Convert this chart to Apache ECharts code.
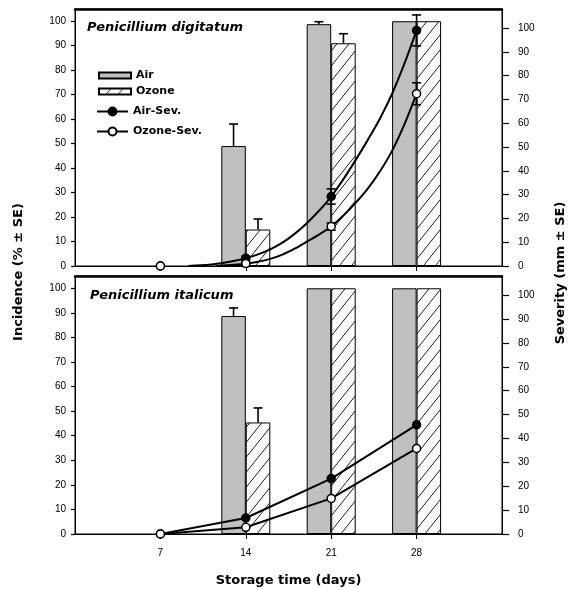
<!DOCTYPE html>
<html><head><meta charset="utf-8">
<script src="https://cdn.jsdelivr.net/npm/echarts@6/dist/echarts.min.js"></script>
<style>html,body{margin:0;padding:0;background:#fff}#c{width:568px;height:590px}</style>
</head><body><div id="c"></div>
<script>
// ---------- data ----------
const days = [7, 14, 21, 28];
const dayTicks = [7, 14, 21, 28];
const incidenceTicks = [0, 10, 20, 30, 40, 50, 60, 70, 80, 90, 100];
const severityTicks = [0, 10, 20, 30, 40, 50, 60, 70, 80, 90, 100];

// Penicillium digitatum (top panel)
const digAirInc = [0, 49, 98.8, 100];
const digAirIncSE = [0, 9, 1, 0];
const digOzoneInc = [0, 14.9, 91, 100];
const digOzoneIncSE = [0, 4.3, 3.9, 0];
const digAirSev = [0, 3.3, 29.2, 99];
const digAirSevSE = [0, 0.8, 3.2, 6.5];
const digOzoneSev = [0, 1, 16.6, 72.4];
const digOzoneSevSE = [0, 0.8, 1.5, 4.6];
// fitted curves as drawn in the figure
const digAirFitDays = [9.3, 11, 12, 13, 14, 15, 16, 17, 18, 19, 20, 21, 22, 23, 24, 25, 26, 27, 28];
const digAirFit = [0, 0.5, 1.2, 2.1, 3.3, 4.9, 7, 9.8, 13.5, 18, 23.2, 29.2, 36.5, 44.5, 53, 62, 72.5, 85, 99];
const digOzoneFitDays = [11.6, 13, 14, 15, 16, 17, 18, 19, 20, 21, 22, 23, 24, 25, 26, 27, 28];
const digOzoneFit = [0, 0.5, 1, 1.8, 3, 4.8, 7.3, 10.2, 13.2, 16.6, 21.2, 26.5, 32.5, 39.8, 48.5, 59.5, 72.4];

// Penicillium italicum (bottom panel)
const itaAirInc = [0, 88.7, 100, 100];
const itaAirIncSE = [0, 3.3, 0, 0];
const itaOzoneInc = [0, 45.4, 100, 100];
const itaOzoneIncSE = [0, 5.9, 0, 0];
const itaAirSev = [0, 6.7, 23.2, 45.7];
const itaOzoneSev = [0, 2.8, 14.9, 35.8];

// ---------- styles ----------
const BAR_W = 24.5, CAP = 9;
const GREY = '#c0c0c0';
const TICK_FONT = {fontFamily: 'Liberation Sans, Arial, sans-serif', fontSize: 10, color: '#000'};
const TITLE_FONT = {fontFamily: 'DejaVu Sans', fontWeight: 'bold', fontSize: 13, color: '#000'};

function hatch() {
  const w = 12, h = 15;
  const c = document.createElement('canvas');
  c.width = w; c.height = h;
  const g = c.getContext('2d');
  g.fillStyle = '#fff'; g.fillRect(0, 0, w, h);
  g.strokeStyle = '#222'; g.lineWidth = 1;
  g.beginPath();
  for (const dx of [-w, 0, w]) for (const dy of [-h, 0, h]) {
    g.moveTo(dx, h + dy); g.lineTo(w + dx, dy);
  }
  g.stroke();
  return c;
}
const HATCH = {image: hatch(), repeat: 'repeat'};

function pairs(xs, ys) { return xs.map((x, i) => [x, ys[i]]); }
function triples(xs, ys, es) { return xs.map((x, i) => [x, ys[i], es[i]]); }

function errorBars(offset, both) {
  return function (params, api) {
    const x = api.value(0), v = api.value(1), e = api.value(2);
    if (!(e > 0)) return null;
    const top = api.coord([x, v + e]);
    const bot = api.coord([x, both ? v - e : v]);
    const cx = top[0] + offset;
    const st = {stroke: '#000', lineWidth: 1.6};
    const kids = [
      {type: 'line', shape: {x1: cx, y1: bot[1], x2: cx, y2: top[1]}, style: st},
      {type: 'line', shape: {x1: cx - CAP / 2, y1: top[1], x2: cx + CAP / 2, y2: top[1]}, style: st}
    ];
    if (both) kids.push({type: 'line', shape: {x1: cx - CAP / 2, y1: bot[1], x2: cx + CAP / 2, y2: bot[1]}, style: st});
    return {type: 'group', children: kids};
  };
}

function xAxisBottom(gridIndex, withLabels) {
  return {
    type: 'value', gridIndex, min: 0, max: 35, position: 'bottom',
    axisLine: {onZero: false, lineStyle: {color: '#000', width: 1}},
    axisTick: {show: true, inside: false, length: 5, customValues: dayTicks, lineStyle: {color: '#000', width: 1}},
    axisLabel: {show: withLabels, customValues: dayTicks, margin: 14, ...TICK_FONT},
    splitLine: {show: false},
    name: withLabels ? 'Storage time (days)' : '',
    nameLocation: 'middle', nameGap: 40, nameTextStyle: TITLE_FONT
  };
}
function xAxisTop(gridIndex) {
  return {
    type: 'value', gridIndex, min: 0, max: 35, position: 'top',
    axisLine: {onZero: false, lineStyle: {color: '#000', width: 2.5}},
    axisTick: {show: false}, axisLabel: {show: false}, splitLine: {show: false}
  };
}
function yLeft(gridIndex) {
  return {
    type: 'value', gridIndex, min: 0, max: 105, position: 'left',
    axisLine: {show: true, onZero: false, lineStyle: {color: '#000', width: 1}},
    axisTick: {show: true, length: 4, customValues: incidenceTicks, lineStyle: {color: '#000', width: 1.2}},
    axisLabel: {customValues: incidenceTicks, margin: 9, ...TICK_FONT},
    splitLine: {show: false}
  };
}
function yRight(gridIndex) {
  return {
    type: 'value', gridIndex, min: 0, max: 108, position: 'right',
    axisLine: {show: true, onZero: false, lineStyle: {color: '#000', width: 1}},
    axisTick: {show: true, length: 7, customValues: severityTicks, lineStyle: {color: '#000', width: 1.2}},
    axisLabel: {customValues: severityTicks, margin: 16, ...TICK_FONT},
    splitLine: {show: false}
  };
}

function barSeries(name, xi, yi, vals, color) {
  return {
    type: 'bar', name, xAxisIndex: xi, yAxisIndex: yi, barWidth: BAR_W, barGap: '0%',
    data: pairs(days, vals).filter(p => p[1] > 0), z: 2,
    itemStyle: {color, borderColor: '#000', borderWidth: 1}
  };
}
function errSeries(xi, yi, vals, se, offset, both, z) {
  return {
    type: 'custom', xAxisIndex: xi, yAxisIndex: yi, z, silent: true,
    encode: {x: 0, y: 1}, data: triples(days, vals, se),
    renderItem: errorBars(offset, both)
  };
}
function sevLine(name, xi, yi, xs, ys, filled, showSym, smooth) {
  return {
    type: 'line', name, xAxisIndex: xi, yAxisIndex: yi, data: pairs(xs, ys), z: 4,
    smooth, symbol: 'circle', symbolSize: 8, showSymbol: showSym,
    lineStyle: {color: '#000', width: 2},
    itemStyle: {color: filled ? '#000' : '#fff', borderColor: '#000', borderWidth: 1.5}
  };
}
function sevMarkers(name, xi, yi, ys, filled, z) {
  return {
    type: 'scatter', name, xAxisIndex: xi, yAxisIndex: yi, data: pairs(days, ys), z,
    symbol: 'circle', symbolSize: 8,
    itemStyle: {color: filled ? '#000' : '#fff', borderColor: '#000', borderWidth: 1.5, opacity: 1}
  };
}

const option = {
  animation: false,
  backgroundColor: '#fff',
  title: [
    {text: 'Penicillium digitatum', left: 87, top: 21, padding: 0,
     textStyle: {fontFamily: 'DejaVu Sans', fontStyle: 'italic', fontWeight: 'bold', fontSize: 13, color: '#000'}},
    {text: 'Penicillium italicum', left: 90, top: 289, padding: 0,
     textStyle: {fontFamily: 'DejaVu Sans', fontStyle: 'italic', fontWeight: 'bold', fontSize: 13, color: '#000'}}
  ],
  legend: [
    {data: ['Air', 'Ozone'], orient: 'vertical', left: 98, top: 70, padding: 0,
     icon: 'rect', itemWidth: 32, itemHeight: 6, itemGap: 5,
     textStyle: {fontFamily: 'DejaVu Sans', fontWeight: 'bold', fontSize: 11, color: '#000'}},
    {data: ['Air-Sev.', 'Ozone-Sev.'], orient: 'vertical', left: 96, top: 106, padding: 0,
     itemWidth: 31, itemHeight: 10, itemGap: 9,
     textStyle: {fontFamily: 'DejaVu Sans', fontWeight: 'bold', fontSize: 11, color: '#000'}}
  ],
  grid: [
    {left: 75, right: 66, top: 9, height: 257, show: true, borderColor: '#000', borderWidth: 1, backgroundColor: 'transparent'},
    {left: 75, right: 66, top: 276, height: 258, show: true, borderColor: '#000', borderWidth: 1, backgroundColor: 'transparent'}
  ],
  xAxis: [xAxisBottom(0, false), xAxisTop(0), xAxisBottom(1, true), xAxisTop(1)],
  yAxis: [yLeft(0), yRight(0), yLeft(1), yRight(1)],
  graphic: [
    {type: 'text', x: 19, y: 272, rotation: Math.PI / 2,
     style: {text: 'Incidence (% \u00b1 SE)', align: 'center', verticalAlign: 'middle', fill: '#000',
             fontFamily: 'DejaVu Sans', fontWeight: 'bold', fontSize: 13}},
    {type: 'text', x: 561, y: 273, rotation: Math.PI / 2,
     style: {text: 'Severity (mm \u00b1 SE)', align: 'center', verticalAlign: 'middle', fill: '#000',
             fontFamily: 'DejaVu Sans', fontWeight: 'bold', fontSize: 13}}
  ],
  series: [
    // bottom panel (listed first so legend icons come from these)
    barSeries('Air', 2, 2, itaAirInc, GREY),
    barSeries('Ozone', 2, 2, itaOzoneInc, HATCH),
    errSeries(2, 2, itaAirInc, itaAirIncSE, -BAR_W / 2, false, 3),
    errSeries(2, 2, itaOzoneInc, itaOzoneIncSE, BAR_W / 2, false, 3),
    sevLine('Air-Sev.', 2, 3, days, itaAirSev, true, true, false),
    sevLine('Ozone-Sev.', 2, 3, days, itaOzoneSev, false, true, false),
    // top panel
    barSeries('Air', 0, 0, digAirInc, GREY),
    barSeries('Ozone', 0, 0, digOzoneInc, HATCH),
    errSeries(0, 0, digAirInc, digAirIncSE, -BAR_W / 2, false, 3),
    errSeries(0, 0, digOzoneInc, digOzoneIncSE, BAR_W / 2, false, 3),
    sevLine('Air-Sev.', 0, 1, digAirFitDays, digAirFit, true, false, 0.3),
    sevLine('Ozone-Sev.', 0, 1, digOzoneFitDays, digOzoneFit, false, false, 0.3),
    errSeries(0, 1, digAirSev, digAirSevSE, 0, true, 5),
    errSeries(0, 1, digOzoneSev, digOzoneSevSE, 0, true, 5),
    sevMarkers('Air-Sev.', 0, 1, digAirSev, true, 6),
    sevMarkers('Ozone-Sev.', 0, 1, digOzoneSev, false, 7)
  ]
};

const chart = echarts.init(document.getElementById('c'), null, {renderer: 'canvas'});
chart.setOption(option);
</script>
</body></html>
